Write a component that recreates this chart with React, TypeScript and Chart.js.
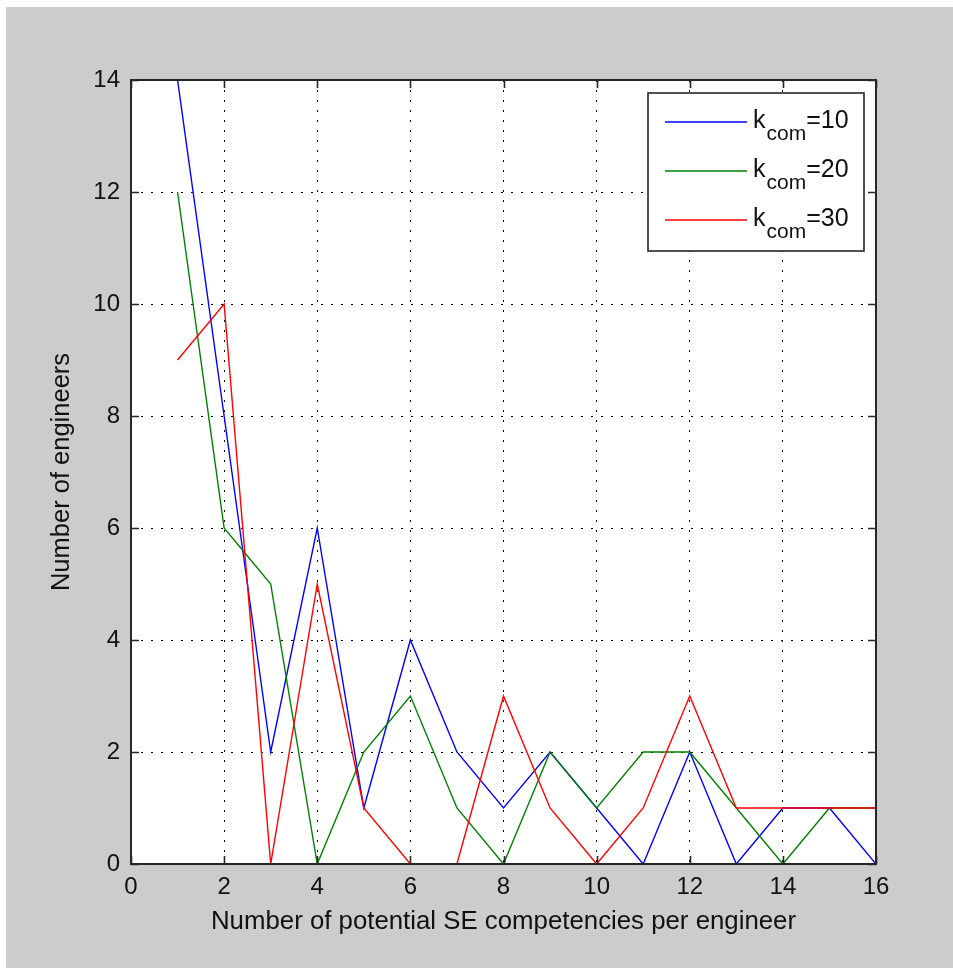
import React, { useEffect, useRef } from 'react';
import { Chart, registerables } from 'chart.js';

Chart.register(...registerables);

// ---- data ----
const xValues = [1, 2, 3, 4, 5, 6, 7, 8, 9, 10, 11, 12, 13, 14, 15, 16];
const seriesK10 = [14, 8, 2, 6, 1, 4, 2, 1, 2, 1, 0, 2, 0, 1, 1, 0];
const seriesK20 = [12, 6, 5, 0, 2, 3, 1, 0, 2, 1, 2, 2, 1, 0, 1, 1];
const seriesK30 = [9, 10, 0, 5, 1, 0, 0, 3, 1, 0, 1, 3, 1, 1, 1, 1];
const kValues = [10, 20, 30];
const seriesColors = ['#0000ff', '#008000', '#ff0000'];
const legendBase = 'k';
const legendSub = 'com';
const xTitle = 'Number of potential SE competencies per engineer';
const yTitle = 'Number of engineers';
const xMin = 0, xMax = 16, xStep = 2;
const yMin = 0, yMax = 14, yStep = 2;

const FONT = '"Liberation Sans", Arial, Helvetica, sans-serif';
const W = 953;
const H = 968;

const bgPlugin = {
  id: 'bgPlugin',
  beforeDraw(chart: any) {
    const { ctx, width, height, chartArea } = chart;
    ctx.save();
    ctx.fillStyle = '#ffffff';
    ctx.fillRect(0, 0, width, height);
    ctx.fillStyle = '#cccccc';
    ctx.fillRect(6, 7, width - 6, height - 7);
    ctx.fillStyle = '#ffffff';
    ctx.fillRect(chartArea.left, chartArea.top, chartArea.right - chartArea.left, chartArea.bottom - chartArea.top);
    ctx.restore();
  },
};

const frameLegendPlugin = {
  id: 'frameLegendPlugin',
  afterDraw(chart: any) {
    const { ctx, chartArea } = chart;
    const { left, right, top, bottom } = chartArea;
    const xs = chart.scales.x;
    const ys = chart.scales.y;
    ctx.save();
    ctx.strokeStyle = '#262626';
    ctx.lineWidth = 1.6;
    ctx.setLineDash([]);
    // inward tick marks
    const tl = 8;
    ctx.beginPath();
    xs.ticks.forEach((t: any) => {
      const p = Math.round(xs.getPixelForValue(t.value)) + 0.5;
      ctx.moveTo(p, bottom);
      ctx.lineTo(p, bottom - tl);
      ctx.moveTo(p, top);
      ctx.lineTo(p, top + tl);
    });
    ys.ticks.forEach((t: any) => {
      const p = Math.round(ys.getPixelForValue(t.value)) + 0.5;
      ctx.moveTo(left, p);
      ctx.lineTo(left + tl, p);
      ctx.moveTo(right, p);
      ctx.lineTo(right - tl, p);
    });
    ctx.stroke();
    // box
    ctx.lineWidth = 2;
    ctx.strokeRect(left, top, right - left, bottom - top);

    // legend
    const bx = 648, by = 93, bw = 216, bh = 158;
    ctx.fillStyle = '#ffffff';
    ctx.fillRect(bx, by, bw, bh);
    ctx.lineWidth = 1.6;
    ctx.strokeStyle = '#262626';
    ctx.strokeRect(bx, by, bw, bh);
    chart.data.datasets.forEach((ds: any, i: number) => {
      const ly = 122 + i * 49;
      ctx.strokeStyle = ds.borderColor;
      ctx.lineWidth = 1.5;
      ctx.beginPath();
      ctx.moveTo(665, ly);
      ctx.lineTo(747, ly);
      ctx.stroke();
      ctx.fillStyle = '#111';
      ctx.textBaseline = 'alphabetic';
      ctx.textAlign = 'left';
      let tx = 753;
      const base = ly + 6;
      ctx.font = `25px ${FONT}`;
      ctx.fillText(legendBase, tx, base);
      tx += ctx.measureText(legendBase).width + 1;
      ctx.font = `21px ${FONT}`;
      ctx.fillText(legendSub, tx, base + 12);
      tx += ctx.measureText(legendSub).width;
      ctx.font = `25px ${FONT}`;
      ctx.fillText('=' + kValues[i], tx, base);
    });
    ctx.restore();
  },
};

export default function App() {
  const ref = useRef<HTMLCanvasElement | null>(null);

  useEffect(() => {
    document.body.style.margin = '0';
    const canvas = ref.current;
    if (!canvas) return;
    const allSeries = [seriesK10, seriesK20, seriesK30];
    const chart = new Chart(canvas, {
      type: 'line',
      data: {
        datasets: allSeries.map((s, i) => ({
          label: `${legendBase}${legendSub}=${kValues[i]}`,
          data: xValues.map((x, j) => ({ x, y: s[j] })),
          borderColor: seriesColors[i],
          backgroundColor: seriesColors[i],
          borderWidth: 1.4,
          pointRadius: 0,
          tension: 0,
          fill: false,
          order: allSeries.length - i,
        })),
      },
      options: {
        responsive: false,
        animation: false,
        devicePixelRatio: 1,
        layout: { padding: { left: 0, top: 80, right: W - 876, bottom: 0 } },
        plugins: {
          legend: { display: false },
          tooltip: { enabled: false },
        },
        scales: {
          x: {
            type: 'linear',
            min: xMin,
            max: xMax,
            ticks: {
              stepSize: xStep,
              font: { family: FONT, size: 24 },
              color: '#111',
              padding: 9,
              maxRotation: 0,
            },
            grid: { color: '#000', lineWidth: 1, drawTicks: false },
            border: { display: false, dash: [2, 8] },
            title: {
              display: true,
              text: xTitle,
              font: { family: FONT, size: 25.8 },
              color: '#111',
              padding: { top: 0, bottom: 31 },
            },
            afterFit: (scale: any) => {
              scale.height = H - 864;
            },
          },
          y: {
            type: 'linear',
            min: yMin,
            max: yMax,
            ticks: {
              stepSize: yStep,
              font: { family: FONT, size: 24 },
              color: '#111',
              padding: 11,
            },
            grid: { color: '#000', lineWidth: 1, drawTicks: false },
            border: { display: false, dash: [2, 8] },
            title: {
              display: true,
              text: yTitle,
              font: { family: FONT, size: 25.5 },
              color: '#111',
              padding: { top: 47, bottom: 0 },
            },
            afterFit: (scale: any) => {
              scale.width = 131;
            },
          },
        },
      },
      plugins: [bgPlugin, frameLegendPlugin],
    } as any);
    return () => chart.destroy();
  }, []);

  return (
    <div style={{ width: W, height: H }}>
      <canvas ref={ref} width={W} height={H} style={{ display: 'block', width: W, height: H }} />
    </div>
  );
}
